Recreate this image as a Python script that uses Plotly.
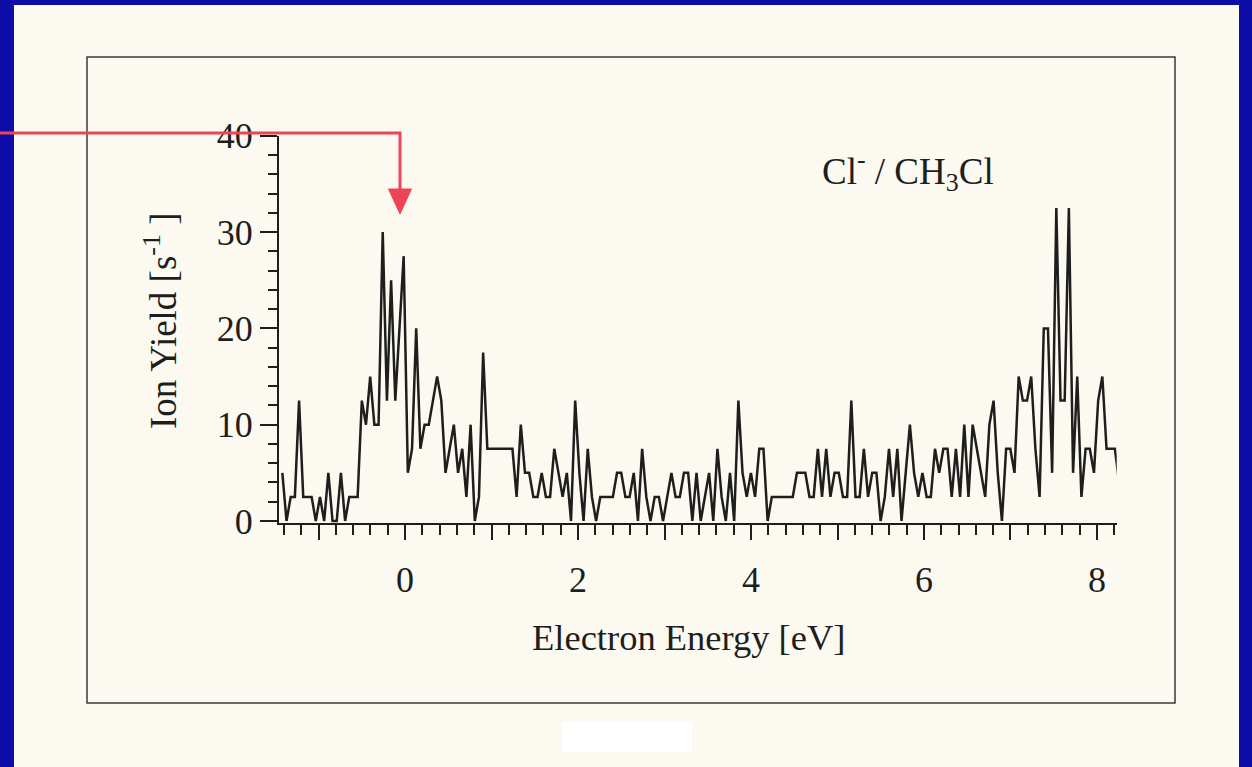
import plotly.graph_objects as go

# Cl- yield from CH3Cl vs. electron energy (counts quantised in 2.5 s^-1 steps)
E_START = -1.4185   # eV, first channel
E_STEP = 0.04837    # eV per channel

ion_yield = [
    5, 0, 2.5, 2.5, 12.5, 2.5, 2.5, 2.5, 0, 2.5,
    0, 5, 0, 0, 5, 0, 2.5, 2.5, 2.5, 12.5,
    10, 15, 10, 10, 30, 12.5, 25, 12.5, 20, 27.5,
    5, 7.5, 20, 7.5, 10, 10, 12.5, 15, 12.5, 5,
    7.5, 10, 5, 7.5, 2.5, 10, 0, 2.5, 17.5, 7.5,
    7.5, 7.5, 7.5, 7.5, 7.5, 7.5, 2.5, 10, 5, 5,
    2.5, 2.5, 5, 2.5, 2.5, 7.5, 5, 2.5, 5, 0,
    12.5, 5, 0, 7.5, 2.5, 0, 2.5, 2.5, 2.5, 2.5,
    5, 5, 2.5, 2.5, 5, 0, 7.5, 2.5, 0, 2.5,
    2.5, 0, 2.5, 5, 2.5, 2.5, 5, 5, 0, 5,
    0, 2.5, 5, 0, 7.5, 2.5, 0, 5, 0, 12.5,
    5, 2.5, 5, 2.5, 7.5, 7.5, 0, 2.5, 2.5, 2.5,
    2.5, 2.5, 2.5, 5, 5, 5, 2.5, 2.5, 7.5, 2.5,
    7.5, 2.5, 5, 5, 2.5, 2.5, 12.5, 2.5, 2.5, 7.5,
    2.5, 5, 5, 0, 2.5, 7.5, 2.5, 7.5, 0, 5,
    10, 5, 2.5, 5, 2.5, 2.5, 7.5, 5, 7.5, 7.5,
    2.5, 7.5, 2.5, 10, 2.5, 10, 7.5, 5, 2.5, 10,
    12.5, 5, 0, 7.5, 7.5, 5, 15, 12.5, 12.5, 15,
    7.5, 2.5, 20, 20, 5, 32.5, 12.5, 12.5, 32.5, 5,
    15, 2.5, 7.5, 7.5, 5, 12.5, 15, 7.5, 7.5, 7.5,
    4,
]
energy = [E_START + i * E_STEP for i in range(len(ion_yield))]

x_major_ticks = [-1, 0, 1, 2, 3, 4, 5, 6, 7, 8]
x_tick_labels = ["", "0", "", "2", "", "4", "", "6", "", "8"]
y_major_ticks = [0, 10, 20, 30, 40]
y_tick_labels = ["0", "10", "20", "30", "40"]

W, H = 1252, 767
SERIF = "Liberation Serif"
INK = "#1e1e1e"
BLUE = "#0c0ca6"
CREAM = "#fcfaf0"
RED = "#ee4457"


def px(x):
    return x / W


def py(y):
    return 1 - y / H


fig = go.Figure()
fig.add_trace(go.Scatter(
    x=energy, y=ion_yield, mode="lines",
    line=dict(color=INK, width=2.5), showlegend=False, hoverinfo="skip",
))

fig.update_layout(
    template="none",
    width=W, height=H, autosize=False, showlegend=False,
    margin=dict(l=0, r=0, t=0, b=0, pad=0, autoexpand=False),
    paper_bgcolor=BLUE, plot_bgcolor="rgba(0,0,0,0)",
    font=dict(family=SERIF, color=INK),
    xaxis=dict(
        domain=[px(279), px(1116.7)], range=[-1.457, 8.228], automargin=False,
        showline=True, linecolor=INK, linewidth=2, showgrid=False, zeroline=False,
        ticks="outside", ticklen=15, tickwidth=2, tickcolor=INK,
        tickmode="array", tickvals=x_major_ticks, ticktext=x_tick_labels,
        tickfont=dict(family=SERIF, size=36, color=INK), ticklabelstandoff=8,
        minor=dict(dtick=0.2, tick0=0, ticks="outside", ticklen=10, tickwidth=2,
                   tickcolor=INK, showgrid=False),
    ),
    yaxis=dict(
        domain=[py(523.3), py(135.8)], range=[-0.24, 40], automargin=False,
        showline=True, linecolor=INK, linewidth=2, showgrid=False, zeroline=False,
        ticks="outside", ticklen=17, tickwidth=2, tickcolor=INK,
        tickmode="array", tickvals=y_major_ticks, ticktext=y_tick_labels,
        tickfont=dict(family=SERIF, size=36, color=INK), ticklabelstandoff=0,
        minor=dict(dtick=2, tick0=0, ticks="outside", ticklen=9, tickwidth=2,
                   tickcolor=INK, showgrid=False),
    ),
)

shapes = [
    # slide panel
    dict(type="rect", xref="paper", yref="paper", layer="below",
         x0=px(14), x1=px(1239), y0=py(767), y1=py(5),
         fillcolor=CREAM, line=dict(width=0)),
    # figure frame
    dict(type="rect", xref="paper", yref="paper", layer="below",
         x0=px(87), x1=px(1175), y0=py(703), y1=py(57),
         fillcolor="rgba(0,0,0,0)", line=dict(color="#3a3a3a", width=1.5)),
    # blank label patch under the frame
    dict(type="rect", xref="paper", yref="paper", layer="below",
         x0=px(562), x1=px(692), y0=py(752), y1=py(722),
         fillcolor="#ffffff", line=dict(width=0)),
    # pointer to the low-energy resonance
    dict(type="path", xref="paper", yref="paper", layer="above",
         path=f"M {px(0)},{py(133)} L {px(400)},{py(133)} L {px(400)},{py(196)}",
         line=dict(color=RED, width=3)),
    dict(type="path", xref="paper", yref="paper", layer="above",
         path=f"M {px(388.5)},{py(189)} L {px(411.5)},{py(189)} L {px(400)},{py(214)} Z",
         fillcolor=RED, line=dict(color=RED, width=1)),
]
fig.update_layout(shapes=shapes)

annotations = [
    dict(text="Electron Energy [eV]", x=px(689), y=py(637),
         font=dict(family=SERIF, size=36.5, color=INK)),
    dict(text="Ion Yield [s<sup>-1</sup> ]", x=px(160), y=py(321), textangle=-90,
         font=dict(family=SERIF, size=37, color=INK)),
    dict(text="Cl<sup>-</sup> / CH<sub>3</sub>Cl", x=px(908), y=py(171),
         font=dict(family=SERIF, size=37, color=INK)),
]
for a in annotations:
    a.update(xref="paper", yref="paper", xanchor="center", yanchor="middle",
             showarrow=False)
fig.update_layout(annotations=annotations)

fig.write_html("out.html")
